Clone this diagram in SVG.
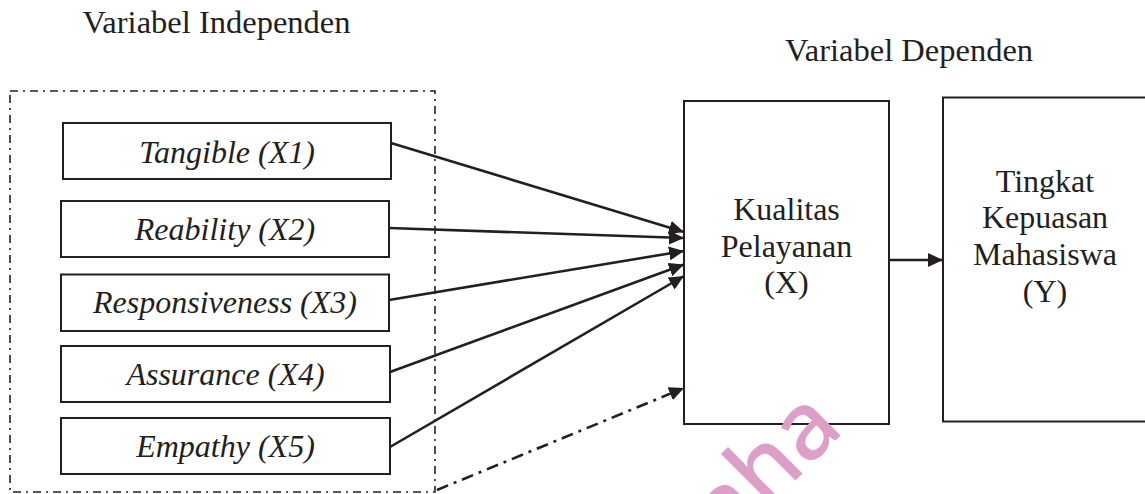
<svg xmlns="http://www.w3.org/2000/svg" width="1145" height="494" viewBox="0 0 1145 494">
  <style>
    .box { fill: #ffffff; stroke: #231f20; stroke-width: 2; }
    .lbl { font-family: "Liberation Serif", "Times New Roman", serif; font-size: 32px; fill: #231f20; text-anchor: middle; }
    .it { font-style: italic; }
    .title { font-family: "Liberation Serif", "Times New Roman", serif; font-size: 32.5px; fill: #231f20; text-anchor: middle; }
    .edge { fill: none; stroke: #231f20; stroke-width: 2.6; }
    .dashdot { stroke-dasharray: 12 6 3 6; }
    .frame { fill: none; stroke: #231f20; stroke-width: 1.6; stroke-dasharray: 8 5 2 5; }
    .wm { font-family: "Noto Sans", "Open Sans", sans-serif; font-size: 94px; font-weight: 500; fill: #dc9fc8; }
  </style>
  <defs>
    <marker id="head" markerUnits="userSpaceOnUse" markerWidth="16" markerHeight="14" refX="15" refY="7" orient="auto">
      <path d="M0,0 L15,7 L0,14 z" fill="#231f20"/>
    </marker>
  </defs>

  <rect width="1145" height="494" fill="#ffffff"/>

  <!-- group headings -->
  <text class="title" x="216.5" y="33">Variabel Independen</text>
  <text class="title" x="909" y="61">Variabel Dependen</text>

  <!-- dash-dot frame around the independent variables -->
  <rect id="independent-frame" class="frame" x="10" y="91" width="425" height="401"/>

  <g id="x1">
    <rect class="box" x="63" y="123" width="328" height="56"/>
    <text class="lbl it" x="227" y="162.5">Tangible (X1)</text>
  </g>
  <g id="x2">
    <rect class="box" x="61" y="201" width="328" height="56"/>
    <text class="lbl it" x="225" y="239.5">Reability (X2)</text>
  </g>
  <g id="x3">
    <rect class="box" x="61" y="274.5" width="328" height="56.5"/>
    <text class="lbl it" x="225" y="313.3">Responsiveness (X3)</text>
  </g>
  <g id="x4">
    <rect class="box" x="61" y="346" width="329" height="56"/>
    <text class="lbl it" x="225.5" y="384.5">Assurance (X4)</text>
  </g>
  <g id="x5">
    <rect class="box" x="61" y="418" width="329" height="56"/>
    <text class="lbl it" x="225.5" y="456.7">Empathy (X5)</text>
  </g>

  <g id="kualitas">
    <rect class="box" x="684" y="101" width="205" height="323"/>
    <text class="lbl" x="786.5" y="220">Kualitas</text>
    <text class="lbl" x="786.5" y="256.7">Pelayanan</text>
    <text class="lbl" x="786.5" y="293">(X)</text>
  </g>

  <g id="kepuasan">
    <rect class="box" x="943" y="97.5" width="205" height="324"/>
    <text class="lbl" x="1045" y="191.7">Tingkat</text>
    <text class="lbl" x="1045" y="228.3">Kepuasan</text>
    <text class="lbl" x="1045" y="265">Mahasiswa</text>
    <text class="lbl" x="1045" y="301.7">(Y)</text>
  </g>

  <g id="connectors">
    <line class="edge" x1="391" y1="143" x2="684" y2="232" marker-end="url(#head)"/>
    <line class="edge" x1="389" y1="228" x2="684" y2="238" marker-end="url(#head)"/>
    <line class="edge" x1="389" y1="300" x2="684" y2="251" marker-end="url(#head)"/>
    <line class="edge" x1="390" y1="372" x2="684" y2="264.5" marker-end="url(#head)"/>
    <line class="edge" x1="390" y1="447" x2="684" y2="276" marker-end="url(#head)"/>
    <line class="edge dashdot" x1="437" y1="490" x2="684" y2="388" marker-end="url(#head)"/>
    <line class="edge" x1="889" y1="260" x2="943" y2="260" marker-end="url(#head)"/>
  </g>

  <!-- faint watermark lettering -->
  <text class="wm" transform="translate(728,548) rotate(-45)" x="0" y="0">aha</text>
</svg>
